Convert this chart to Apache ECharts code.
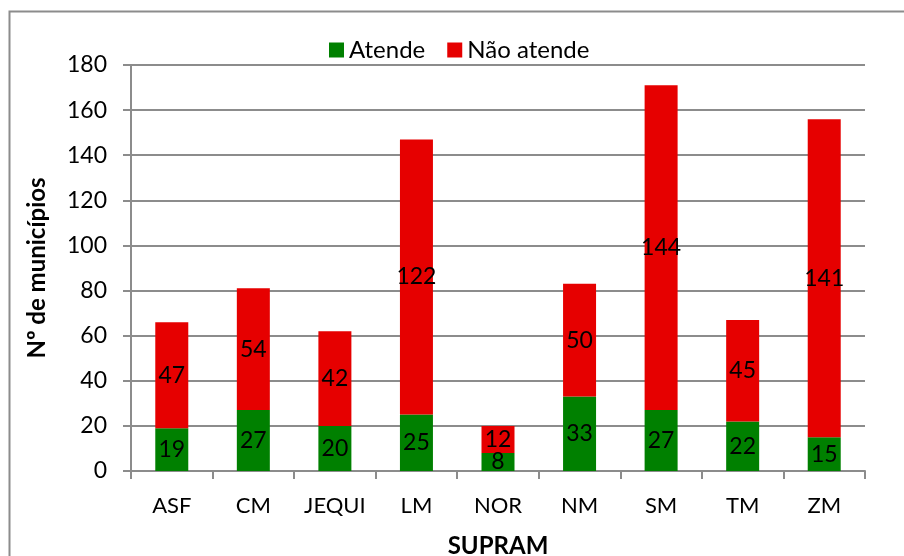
<!DOCTYPE html>
<html><head><meta charset="utf-8">
<script src="https://cdn.jsdelivr.net/npm/echarts@6/dist/echarts.min.js"></script>
<style>html,body{margin:0;padding:0;background:#fff}#c{width:904px;height:556px}</style>
</head><body><div id="c"></div>
<script>
const categories = ['ASF','CM','JEQUI','LM','NOR','NM','SM','TM','ZM'];
const atende = [19,27,20,25,8,33,27,22,15];
const naoAtende = [47,54,42,122,12,50,144,45,141];
const yTicks = {min:0, max:180, interval:20};

const font = 'Lato, "Open Sans", sans-serif';
const chart = echarts.init(document.getElementById('c'), null, {renderer:'canvas'});
chart.setOption({
  animation:false,
  backgroundColor:'#fff',
  graphic:[{type:'rect', shape:{x:9.5,y:11.5,width:1000,height:1000}, style:{fill:'none', stroke:'#8c8c8c', lineWidth:2}, silent:true}],
  legend:{top:33, left:324, itemWidth:15, itemHeight:15, itemGap:22, icon:'rect',
    textStyle:{fontFamily:font, fontSize:24, color:'#000', padding:[0,0,0,0]},
    data:['Atende','Não atende']},
  grid:{left:131, right:39, top:65, bottom:85, outerBoundsMode:'none', containLabel:false},
  xAxis:{type:'category', data:categories, name:'SUPRAM', nameLocation:'middle', nameGap:63,
    nameTextStyle:{fontFamily:font, fontSize:24, fontWeight:'bold', color:'#000'},
    axisLine:{lineStyle:{color:'#8c8c8c', width:2}},
    axisTick:{show:true, length:8, lineStyle:{color:'#8c8c8c', width:2}},
    axisLabel:{fontFamily:font, fontSize:22, color:'#000', margin:24, interval:0}},
  yAxis:{type:'value', min:yTicks.min, max:yTicks.max, interval:yTicks.interval,
    name:'Nº de municípios', nameLocation:'middle', nameGap:82,
    nameTextStyle:{fontFamily:font, fontSize:24, fontWeight:'bold', color:'#000'},
    axisLine:{show:true, lineStyle:{color:'#8c8c8c', width:2}},
    axisTick:{show:true, length:8, lineStyle:{color:'#8c8c8c', width:2}},
    splitLine:{lineStyle:{color:'#8c8c8c', width:2}},
    axisLabel:{fontFamily:font, fontSize:23, color:'#000', margin:24}},
  series:[
    {name:'Atende', type:'bar', stack:'t', data:atende, barWidth:33,
     itemStyle:{color:'#008000'},
     label:{show:true, position:'inside', fontFamily:font, fontSize:23, color:'#000'}},
    {name:'Não atende', type:'bar', stack:'t', data:naoAtende, barWidth:33,
     itemStyle:{color:'#e60000'},
     label:{show:true, position:'inside', fontFamily:font, fontSize:23, color:'#000'}}
  ]
});
</script></body></html>
